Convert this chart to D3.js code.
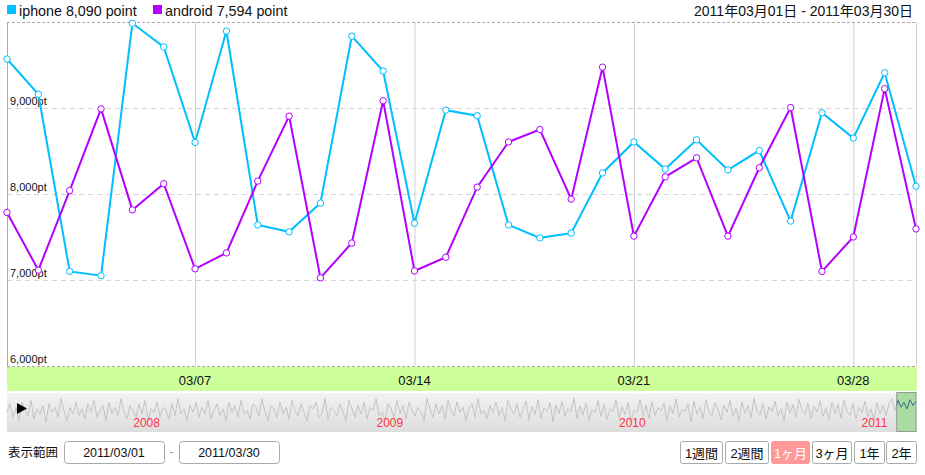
<!DOCTYPE html>
<html>
<head>
<meta charset="utf-8">
<script src="https://cdn.jsdelivr.net/npm/d3@7"></script>
<style>
body { margin: 0; background: #fff; }
svg { font-family: Arial, "Liberation Sans", "Noto Sans CJK JP", sans-serif; }
</style>
</head>
<body>
<script>
// daily points, 2011/03/01 - 2011/03/30
var iphone = [9570, 9160, 7100, 7050, 9985, 9710, 8600, 9895, 7640, 7560,
              7895, 9835, 9430, 7660, 8975, 8910, 7640, 7490, 7545, 8245,
              8605, 8290, 8630, 8280, 8505, 7685, 8945, 8650, 9410, 8090];
var android = [7785, 7115, 8040, 8990, 7815, 8120, 7130, 7315, 8150, 8905,
               7025, 7430, 9085, 7105, 7265, 8080, 8605, 8750, 7940, 9475,
               7510, 8200, 8420, 7510, 8305, 9005, 7100, 7500, 9225, 7594];
var weekTicks = ["2011-03-07", "2011-03-14", "2011-03-21", "2011-03-28"];
var yTicks = [6000, 7000, 8000, 9000];
var years = ["2008", "2009", "2010", "2011"];
var rangeButtons = ["1週間", "2週間", "1ヶ月", "3ヶ月", "1年", "2年"];
// overview (2007/07 - 2011/03), rough 0-100 levels
var overview = [55,80,40,70,30,85,60,45,90,35,65,50,75,25,80,55,70,40,95,60,
  30,70,50,85,45,65,35,80,55,90,40,60,75,30,85,50,70,45,95,55,35,75,60,40,80,
  50,90,30,65,55,85,40,70,60,35,80,45,95,50,65,30,75,55,85,40,70,50,90,35,60,
  80,45,65,30,85,55,75,40,90,50,60,35,80,70,45,95,55,30,75,65,40,85,50,70,35,
  90,60,45,80,55,30,75,65,85,40,50,95,35,70,60,45,80,55,30,90,65,40,75,50,85,
  35,70,60,95,45,55,30,80,65,40,90,50,75,35,85,60,45,70,55,30,95,65,40,80,50,
  75,35,90,60,45,85,55,70,30,65,80,40,95,50,60,35,75,55,85,45,70,30,90,65,50,
  80,40,62,88,33,72,48,92,38,68,58,83,28,77,52,87,42,67,57,97,37,73,47,82,32,
  63,53,89,43,78,34,66,56,91,39,71,49,84,29,61,54,93,44,76,36,86,46,69,59,81,
  31,74,51,94,41,64,57,79,27,88,49,70,36,92,58,45,83,62,33,76,55,90,42,68,
  30,86,52,74,39,96,60,47,80,35,71,57,88,44,66,31,85,53,77,40,93,61,48,82,37,
  72,56,89,43,67,34,84,51,78,38,91,59,46,81,36,70,54,87,41,65,32,83,50,76,45,
  80,95,60,90,70,85,65,92,75,88];

var W = 925, H = 475;
var pLeft = 7, pRight = 916, pTop = 22, pBottom = 366;
var parse = d3.timeParse("%Y-%m-%d");
var days = d3.timeDay.range(new Date(2011, 2, 1), new Date(2011, 2, 31));

var x = d3.scaleTime().domain([days[0], days[days.length - 1]]).range([pLeft, pRight]);
var y = d3.scaleLinear().domain([6000, 10000]).range([pBottom, pTop]);

var svg = d3.select("body").append("svg")
    .attr("width", W)
    .attr("height", H);

// legend
var legend = [
    {name: "iphone", color: "#00bfff", last: iphone[iphone.length - 1], x: 7},
    {name: "android", color: "#b400ff", last: android[android.length - 1], x: 153}
];
legend.forEach(function(d) {
    svg.append("rect").attr("x", d.x).attr("y", 5).attr("width", 9).attr("height", 9).attr("fill", d.color);
    svg.append("text").attr("x", d.x + 12).attr("y", 16)
        .attr("font-size", "14.3px").attr("fill", "#111")
        .text(d.name + " " + d3.format(",")(d.last) + " point");
});

var fmtJ = d3.timeFormat("%Y年%m月%d日");
svg.append("text").attr("x", 913).attr("y", 16)
    .attr("text-anchor", "end").attr("font-size", "14px").attr("fill", "#111")
    .text(fmtJ(days[0]) + " - " + fmtJ(days[days.length - 1]));

// grid
svg.append("g").selectAll("line")
    .data(weekTicks)
    .join("line")
    .attr("x1", d => x(parse(d)) + 0.5).attr("x2", d => x(parse(d)) + 0.5)
    .attr("y1", pTop).attr("y2", pBottom)
    .attr("stroke", "#d0d0d0");

svg.append("g").selectAll("line")
    .data(yTicks.slice(1))
    .join("line")
    .attr("x1", pLeft).attr("x2", pRight)
    .attr("y1", d => Math.round(y(d)) + 0.5).attr("y2", d => Math.round(y(d)) + 0.5)
    .attr("stroke", "#d4d4d4").attr("stroke-dasharray", "5,4");

// frame
svg.append("line").attr("x1", pLeft).attr("x2", pRight).attr("y1", pTop + 0.5).attr("y2", pTop + 0.5)
    .attr("stroke", "#aaa").attr("stroke-dasharray", "3,2");
svg.append("line").attr("x1", pLeft).attr("x2", pRight).attr("y1", pBottom + 0.5).attr("y2", pBottom + 0.5)
    .attr("stroke", "#aaa").attr("stroke-dasharray", "3,2");
svg.append("line").attr("x1", pLeft + 0.5).attr("x2", pLeft + 0.5).attr("y1", pTop).attr("y2", pBottom)
    .attr("stroke", "#aaa");
svg.append("line").attr("x1", pRight + 0.5).attr("x2", pRight + 0.5).attr("y1", pTop).attr("y2", pBottom)
    .attr("stroke", "#ccc");

svg.append("g").selectAll("text")
    .data(yTicks)
    .join("text")
    .attr("x", 10).attr("y", d => y(d) - 3)
    .attr("font-size", "11px").attr("fill", "#111")
    .text(d => d3.format(",")(d) + "pt");

// lines
var series = [
    {values: iphone, color: "#00bfff"},
    {values: android, color: "#b400ff"}
];
var line = d3.line().x((d, i) => x(days[i])).y(d => y(d));
series.forEach(function(s) {
    svg.append("path").datum(s.values)
        .attr("d", line)
        .attr("fill", "none")
        .attr("stroke", s.color)
        .attr("stroke-width", 2);
    svg.append("g").selectAll("circle")
        .data(s.values)
        .join("circle")
        .attr("cx", (d, i) => x(days[i]))
        .attr("cy", d => y(d))
        .attr("r", 3.2)
        .attr("fill", "#fff")
        .attr("stroke", s.color)
        .attr("stroke-width", 1);
});

// date band
svg.append("rect").attr("x", pLeft).attr("y", 367).attr("width", pRight - pLeft + 1).attr("height", 24)
    .attr("fill", "#ccff99");
svg.append("g").selectAll("text")
    .data(weekTicks)
    .join("text")
    .attr("x", d => x(parse(d))).attr("y", 385)
    .attr("text-anchor", "middle").attr("font-size", "13px").attr("fill", "#111")
    .text(d => d3.timeFormat("%m/%d")(parse(d)));

// overview navigator
var nx = d3.scaleTime().domain([new Date(2007, 6, 1), new Date(2011, 2, 30)]).range([pLeft, pRight]);
var ny = d3.scaleLinear().domain([0, 100]).range([431, 397]);
var defs = svg.append("defs");
var grad = defs.append("linearGradient").attr("id", "navbg").attr("x1", 0).attr("x2", 0).attr("y1", 0).attr("y2", 1);
grad.append("stop").attr("offset", "0%").attr("stop-color", "#f2f2f2");
grad.append("stop").attr("offset", "100%").attr("stop-color", "#dedede");
svg.append("rect").attr("x", pLeft).attr("y", 393).attr("width", pRight - pLeft + 1).attr("height", 39)
    .attr("fill", "url(#navbg)");

var ov = d3.scaleLinear().domain([0, overview.length - 1]).range(nx.range());
var navLine = d3.line().x((d, i) => ov(i)).y(d => ny(d));
svg.append("path").datum(overview)
    .attr("d", navLine)
    .attr("fill", "none").attr("stroke", "#c4c4c4").attr("stroke-width", 1);

svg.append("path").attr("d", "M17,403L27,408.5L17,414Z").attr("fill", "#000");

svg.append("g").selectAll("text")
    .data(years)
    .join("text")
    .attr("x", d => nx(new Date(+d, 0, 1)) + 4).attr("y", 427)
    .attr("font-size", "12px").attr("fill", "#ff3344")
    .text(d => d);

var s0 = nx(new Date(2011, 2, 1)), s1 = pRight;
defs.append("clipPath").attr("id", "sel").append("rect")
    .attr("x", s0).attr("y", 392).attr("width", s1 - s0).attr("height", 40);
svg.append("rect").attr("x", s0).attr("y", 392.5).attr("width", s1 - s0).attr("height", 39)
    .attr("fill", "#a8dca0").attr("stroke", "#999");
svg.append("path").datum(overview)
    .attr("d", navLine).attr("clip-path", "url(#sel)")
    .attr("fill", "none").attr("stroke", "#2f6f8f").attr("stroke-width", 1);

// range controls
svg.append("text").attr("x", 8).attr("y", 457)
    .attr("font-size", "12.5px").attr("fill", "#111").text("表示範囲");
var inputs = [{x: 64, text: d3.timeFormat("%Y/%m/%d")(days[0])},
              {x: 179, text: d3.timeFormat("%Y/%m/%d")(days[days.length - 1])}];
inputs.forEach(function(d) {
    svg.append("rect").attr("x", d.x + 0.5).attr("y", 441.5).attr("width", 100).attr("height", 22)
        .attr("rx", 3).attr("fill", "#fff").attr("stroke", "#aaa");
    svg.append("text").attr("x", d.x + 50).attr("y", 457)
        .attr("text-anchor", "middle").attr("font-size", "12.5px").attr("fill", "#111").text(d.text);
});
svg.append("text").attr("x", 171.5).attr("y", 456).attr("text-anchor", "middle")
    .attr("font-size", "12px").attr("fill", "#999").text("-");

var btnX = [680, 725, 771, 812, 854, 886], btnW = [42, 43, 38, 39, 30, 30];
rangeButtons.forEach(function(b, i) {
    var on = b === "1ヶ月";
    svg.append("rect").attr("x", btnX[i] + 0.5).attr("y", 441.5).attr("width", btnW[i]).attr("height", 22)
        .attr("rx", 2).attr("fill", on ? "#ff9999" : "#fff").attr("stroke", on ? "#ff9999" : "#aaa");
    svg.append("text").attr("x", btnX[i] + btnW[i] / 2 + 0.5).attr("y", 457.5)
        .attr("text-anchor", "middle").attr("font-size", "13px").attr("fill", on ? "#fff" : "#111")
        .text(b);
});
</script>
</body>
</html>
